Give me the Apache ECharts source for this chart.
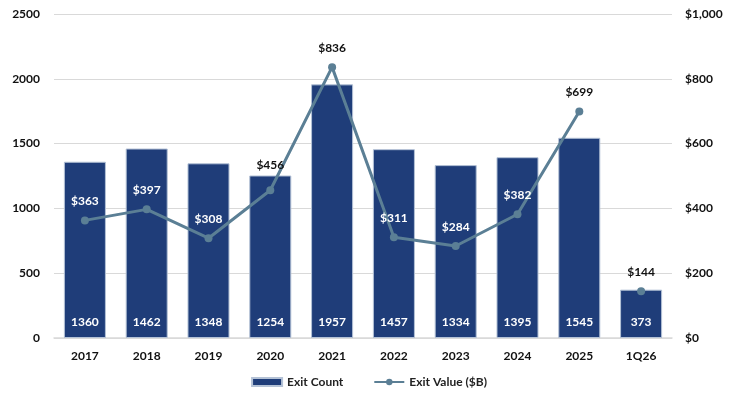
<!DOCTYPE html>
<html>
<head>
<meta charset="utf-8">
<script src="https://cdn.jsdelivr.net/npm/echarts@6/dist/echarts.min.js"></script>
<style>
  html, body { margin: 0; padding: 0; background: #fff; }
  #chart { width: 738px; height: 395px; }
</style>
</head>
<body>
<div id="chart"></div>
<script>
// Exit activity by year: deal count (bars) and exit value in $B (line)
var categories = ['2017', '2018', '2019', '2020', '2021', '2022', '2023', '2024', '2025', '1Q26'];
var exitCount = [1360, 1462, 1348, 1254, 1957, 1457, 1334, 1395, 1545, 373];
// full years form the connected line; the partial quarter stands alone
var exitValueYears = [363, 397, 308, 456, 836, 311, 284, 382, 699, null];
var exitValueQuarter = [null, null, null, null, null, null, null, null, null, 144];
var countTicks = [0, 500, 1000, 1500, 2000, 2500];
var valueTicks = [0, 200, 400, 600, 800, 1000];

var font = 'Lato, "Open Sans", sans-serif';
var chart = echarts.init(document.getElementById('chart'));

function fmtMoney(v) {
  return '$' + v.toLocaleString('en-US');
}

var countMax = countTicks[countTicks.length - 1];
var valueMax = valueTicks[valueTicks.length - 1];

// value labels that land inside a bar are drawn in white; a dark label that
// would straddle a bar top is lifted clear of it
function valueItems(values) {
  return values.map(function (v, i) {
    if (v == null) return null;
    var barTop = exitCount[i] / countMax;
    var pos = v / valueMax;
    var labelInBar = pos + 0.07 < barTop;
    var straddles = !labelInBar && pos + 0.02 < barTop;
    return {
      value: v,
      label: { color: labelInBar ? '#ffffff' : '#111111', distance: straddles ? 15 : 9 }
    };
  });
}

var lineLabel = {
  show: true,
  position: 'top',
  distance: 9,
  fontWeight: 700,
  fontSize: 12,
  fontFamily: font,
  formatter: function (p) { return fmtMoney(p.value); }
};

chart.setOption({
  animation: false,
  textStyle: { fontFamily: font },
  grid: { left: 54, right: 66, top: 14, bottom: 57 },
  legend: {
    bottom: 2,
    left: 'center',
    itemGap: 30,
    itemWidth: 30,
    itemHeight: 8,
    textStyle: { fontFamily: font, fontWeight: 700, fontSize: 12, color: '#222' },
    data: [
      { name: 'Exit Count', icon: 'rect' },
      { name: 'Exit Value ($B)' }
    ]
  },
  xAxis: {
    type: 'category',
    data: categories,
    axisTick: { show: false },
    axisLine: { lineStyle: { color: '#d9d9d9', width: 1.5 } },
    axisLabel: { color: '#111', fontWeight: 700, fontSize: 12, margin: 12, fontFamily: font }
  },
  yAxis: [
    {
      type: 'value',
      min: countTicks[0],
      max: countMax,
      interval: 500,
      axisLine: { show: false },
      axisTick: { show: false },
      splitLine: { lineStyle: { color: '#d9d9d9' } },
      axisLabel: {
        color: '#111', fontWeight: 700, fontSize: 12, margin: 14, fontFamily: font,
        formatter: function (v) { return String(v); }
      }
    },
    {
      type: 'value',
      min: valueTicks[0],
      max: valueMax,
      interval: 200,
      axisLine: { show: false },
      axisTick: { show: false },
      splitLine: { show: false },
      axisLabel: {
        color: '#111', fontWeight: 700, fontSize: 12, margin: 13, fontFamily: font,
        formatter: fmtMoney
      }
    }
  ],
  series: [
    {
      name: 'Exit Count',
      type: 'bar',
      data: exitCount,
      barWidth: '68%',
      itemStyle: { color: '#1f3d79', borderColor: '#b4c2d6', borderWidth: 1 },
      label: {
        show: true,
        position: 'insideBottom',
        distance: 10,
        color: '#fff',
        fontWeight: 700,
        fontSize: 12,
        fontFamily: font
      },
      z: 2
    },
    {
      name: 'Exit Value ($B)',
      type: 'line',
      yAxisIndex: 1,
      data: valueItems(exitValueYears),
      symbol: 'circle',
      symbolSize: 8,
      lineStyle: { color: '#5b7f95', width: 3 },
      itemStyle: { color: '#5b7f95' },
      label: lineLabel,
      z: 3
    },
    {
      name: 'Exit Value ($B)',
      type: 'line',
      yAxisIndex: 1,
      data: valueItems(exitValueQuarter),
      symbol: 'circle',
      symbolSize: 8,
      lineStyle: { color: '#5b7f95', width: 3 },
      itemStyle: { color: '#5b7f95' },
      label: lineLabel,
      z: 3
    }
  ]
});
</script>
</body>
</html>
